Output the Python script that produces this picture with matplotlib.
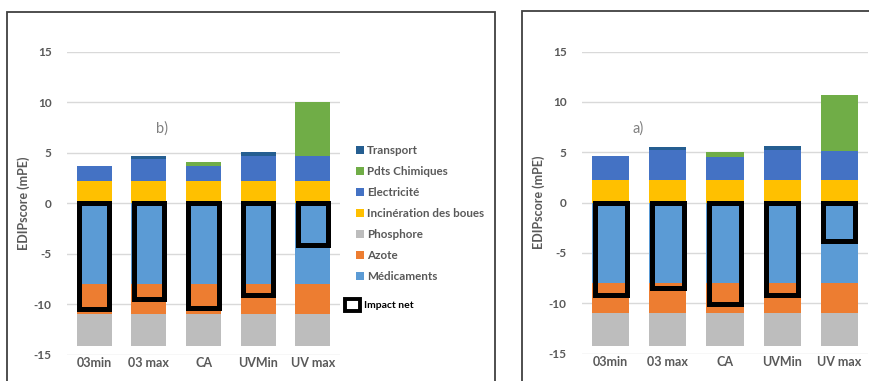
import matplotlib
matplotlib.use("Agg")
import matplotlib.pyplot as plt
from matplotlib.patches import Patch, Rectangle

plt.rcParams['font.family'] = ['Lato', 'DejaVu Sans']

categories = ["03min", "03 max", "CA", "UVMin", "UV max"]
y_ticks = [-15, -10, -5, 0, 5, 10, 15]
y_tick_labels = ["-15", "-10", "-5", "0", "5", "10", "15"]

# Scenario b)
medicaments_b = [-8.0, -8.0, -8.0, -8.0, -8.0]
azote_b = [-3.0, -3.0, -3.0, -3.0, -3.0]
phosphore_b = [-3.2, -3.2, -3.2, -3.2, -3.2]
incineration_b = [2.2, 2.2, 2.2, 2.2, 2.2]
electricite_b = [1.5, 2.2, 1.45, 2.5, 2.5]
pdts_chimiques_b = [0.0, 0.0, 0.45, 0.0, 5.3]
transport_b = [0.0, 0.3, 0.0, 0.4, 0.0]
impact_net_b = [-10.5, -9.5, -10.4, -9.1, -4.1]

# Scenario a)
medicaments_a = [-8.0, -8.0, -8.0, -8.0, -8.0]
azote_a = [-3.0, -3.0, -3.0, -3.0, -3.0]
phosphore_a = [-3.2, -3.2, -3.2, -3.2, -3.2]
incineration_a = [2.2, 2.2, 2.2, 2.2, 2.2]
electricite_a = [2.4, 3.0, 2.35, 3.0, 2.95]
pdts_chimiques_a = [0.0, 0.0, 0.45, 0.0, 5.5]
transport_a = [0.0, 0.3, 0.0, 0.45, 0.0]
impact_net_a = [-9.2, -8.5, -10.1, -9.15, -3.8]

series_names = ["Médicaments", "Azote", "Phosphore", "Incinération des boues",
                "Electricité", "Pdts Chimiques", "Transport"]
colors = {
    "Médicaments": "#5B9BD5",
    "Azote": "#ED7D31",
    "Phosphore": "#BDBDBD",
    "Incinération des boues": "#FFC000",
    "Electricité": "#4472C4",
    "Pdts Chimiques": "#70AD47",
    "Transport": "#255E91",
}
text_gray = "#595959"
W, H = 869, 381

fig = plt.figure(figsize=(W / 100, H / 100), dpi=100)


def px_axes(x0, x1, ytop, ybot):
    return fig.add_axes([x0 / W, (H - ybot) / H, (x1 - x0) / W, (ybot - ytop) / H])


def draw_panel(ax, neg, pos, net, tag, tag_xy, bar_w, box_w):
    x = list(range(len(categories)))
    bottom = [0.0] * len(x)
    for name, vals in neg:
        ax.bar(x, vals, bar_w, bottom=bottom, color=colors[name], linewidth=0, zorder=2)
        bottom = [b + v for b, v in zip(bottom, vals)]
    bottom = [0.0] * len(x)
    for name, vals in pos:
        ax.bar(x, vals, bar_w, bottom=bottom, color=colors[name], linewidth=0, zorder=2)
        bottom = [b + v for b, v in zip(bottom, vals)]
    # net impact drawn as an outlined box from zero to the net value
    ax.bar(x, net, box_w, bottom=0, fill=False, edgecolor="black",
           linewidth=3.6, zorder=3)
    ax.set_xlim(-0.5, len(x) - 0.5)
    ax.set_ylim(-15, 15)
    ax.set_yticks(y_ticks)
    ax.set_yticklabels(y_tick_labels)
    ax.set_xticks(x)
    ax.set_xticklabels(categories)
    ax.tick_params(length=0, labelcolor=text_gray)
    ax.tick_params(axis="x", pad=2, labelsize=9)
    ax.tick_params(axis="y", pad=11, labelsize=8.5)
    for lab in ax.get_xticklabels() + ax.get_yticklabels():
        lab.set_fontweight("bold")
    ax.grid(axis="y", color="#D9D9D9", linewidth=1)
    ax.set_axisbelow(True)
    for s in ax.spines.values():
        s.set_visible(False)
    ax.set_ylabel("EDIPscore (mPE)", fontsize=9, color=text_gray, fontweight="bold")
    ax.text(tag_xy[0], tag_xy[1], tag, fontsize=10.5, color="#808080",
            ha="center", va="center")


# outer frames of the two chart areas
fig.add_artist(Rectangle((7 / W, -0.1), (495 - 7) / W, (H - 12) / H + 0.1,
                         transform=fig.transFigure, fill=False,
                         edgecolor="#404040", linewidth=1.3))
fig.add_artist(Rectangle((522 / W, -0.1), 0.5, (H - 11) / H + 0.1,
                         transform=fig.transFigure, fill=False,
                         edgecolor="#404040", linewidth=1.3))

ax_b = px_axes(67, 340, 52, 354.5)
draw_panel(
    ax_b,
    [("Médicaments", medicaments_b), ("Azote", azote_b), ("Phosphore", phosphore_b)],
    [("Incinération des boues", incineration_b), ("Electricité", electricite_b),
     ("Pdts Chimiques", pdts_chimiques_b), ("Transport", transport_b)],
    impact_net_b, "b)", (1.24, 7.4), 0.64, 0.55)
ax_b.yaxis.set_label_coords(-0.135, 0.5)

ax_a = px_axes(582, 868, 51.5, 353.7)
draw_panel(
    ax_a,
    [("Médicaments", medicaments_a), ("Azote", azote_a), ("Phosphore", phosphore_a)],
    [("Incinération des boues", incineration_a), ("Electricité", electricite_a),
     ("Pdts Chimiques", pdts_chimiques_a), ("Transport", transport_a)],
    impact_net_a, "a)", (0.48, 7.4), 0.65, 0.56)
ax_a.yaxis.set_label_coords(-0.129, 0.5)

# legend for the stacked series (listed top to bottom in reverse stacking order)
handles = [Patch(facecolor=colors[n], edgecolor="none") for n in reversed(series_names)]
leg = fig.legend(handles, list(reversed(series_names)), loc="upper left",
                 bbox_to_anchor=(356 / W, 1 - 145 / H), frameon=False,
                 fontsize=8.4, handlelength=0.65, handleheight=0.65,
                 handletextpad=0.3, labelspacing=0.86, borderpad=0,
                 borderaxespad=0)
for t in leg.get_texts():
    t.set_color(text_gray)
    t.set_fontweight("bold")

leg2 = fig.legend([Patch(facecolor="white", edgecolor="black", linewidth=2.8)],
                  ["Impact net"], loc="upper left",
                  bbox_to_anchor=(345 / W, 1 - 299 / H), frameon=False,
                  fontsize=7.5, handlelength=1.4, handleheight=1.4,
                  handletextpad=0.4, borderpad=0, borderaxespad=0)
for t in leg2.get_texts():
    t.set_color("black")
    t.set_fontweight("bold")

fig.savefig("out.png", dpi=100, facecolor="white")
